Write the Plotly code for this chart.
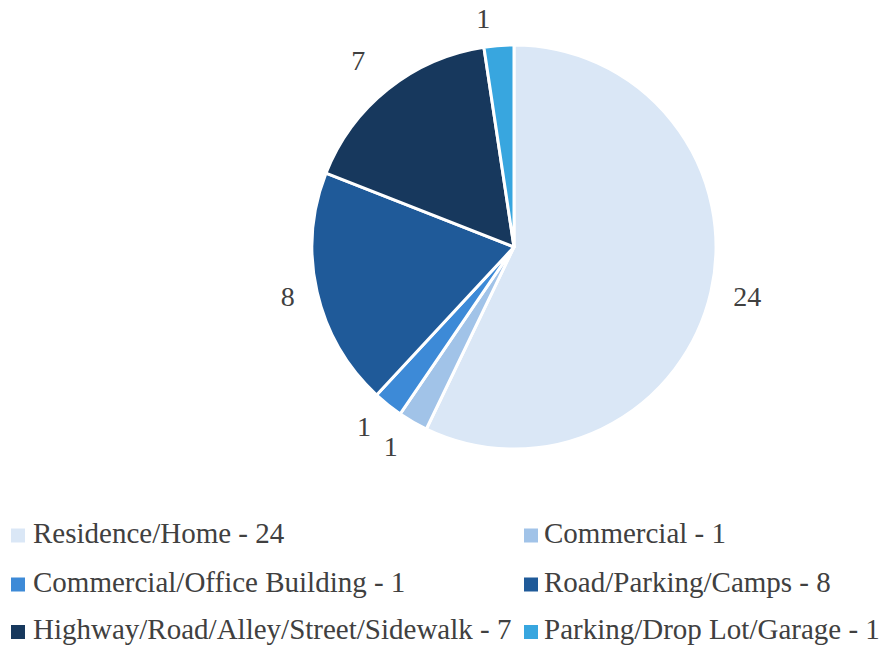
import plotly.graph_objects as go

# ---- data ----
categories = [
    "Residence/Home",
    "Commercial",
    "Commercial/Office Building",
    "Road/Parking/Camps",
    "Highway/Road/Alley/Street/Sidewalk",
    "Parking/Drop Lot/Garage",
]
counts = [24, 1, 1, 8, 7, 1]
colors = ["#dae7f6", "#a1c3e8", "#3d8ad7", "#1f5a99", "#17385d", "#38a6df"]

W, H = 881, 647
FONT = "'Liberation Serif', 'DejaVu Serif', serif"
TXT = "#404040"
FS = 29


def px_x(x):
    return x / W


def px_y(y):
    return 1 - y / H


# pie geometry (pixels): centre and radius of the coloured disc
CX, CY, R = 514, 247, 202


def dom(r):
    return dict(x=[px_x(CX - r), px_x(CX + r)], y=[px_y(CY + r), px_y(CY - r)])


# value labels: carried by invisible pies (split so that neighbouring small
# slices keep their natural positions without leader lines)
label_sets = [
    ([0, 1, 3], 217),
    ([2], 217),
    ([4], 226),
    ([5], 214),
]

fig = go.Figure()
for k, (idx, rt) in enumerate(label_sets):
    fig.add_trace(
        go.Pie(
            labels=categories,
            values=counts,
            sort=False,
            direction="clockwise",
            rotation=0,
            marker=dict(colors=["rgba(0,0,0,0)"] * len(counts), line=dict(width=0)),
            textinfo="value",
            textposition=["outside" if i in idx else "none" for i in range(len(counts))],
            outsidetextfont=dict(family=FONT, size=FS - 1, color=TXT),
            domain=dom(rt),
            showlegend=False,
            hoverinfo="skip",
            automargin=False,
            name=f"labels{k}",
        )
    )

fig.add_trace(
    go.Pie(
        labels=categories,
        values=counts,
        sort=False,
        direction="clockwise",
        rotation=0,
        marker=dict(colors=colors, line=dict(color="white", width=3)),
        textinfo="none",
        domain=dom(R),
        showlegend=False,
        hoverinfo="label+value",
    )
)

# ---- legend (two columns, three rows) built from the data arrays ----
col_marker_x = [11, 524]
col_text_x = [31, 542]
row_center_y = [535.5, 584.5, 632]
box = 14
shapes = []
annotations = []
for i, (cat, val, col) in enumerate(zip(categories, counts, colors)):
    r, c = divmod(i, 2)
    cy = row_center_y[r]
    x0 = col_marker_x[c]
    shapes.append(
        dict(
            type="rect", xref="paper", yref="paper",
            x0=px_x(x0), x1=px_x(x0 + box),
            y0=px_y(cy + box / 2), y1=px_y(cy - box / 2),
            fillcolor=col, line=dict(width=0),
        )
    )
    annotations.append(
        dict(
            xref="paper", yref="paper",
            x=px_x(col_text_x[c]), y=px_y(cy - 3),
            xanchor="left", yanchor="middle",
            text=f"{cat} - {val}", showarrow=False,
            font=dict(family=FONT, size=FS, color=TXT),
        )
    )

fig.update_layout(
    width=W,
    height=H,
    margin=dict(l=0, r=0, t=0, b=0, autoexpand=False),
    paper_bgcolor="white",
    plot_bgcolor="white",
    shapes=shapes,
    annotations=annotations,
    showlegend=False,
    font=dict(family=FONT, color=TXT),
)

fig.write_html(
    "out.html",
    config={"displayModeBar": False},
    post_script="document.body.style.margin='0';document.body.style.overflow='hidden';",
)
